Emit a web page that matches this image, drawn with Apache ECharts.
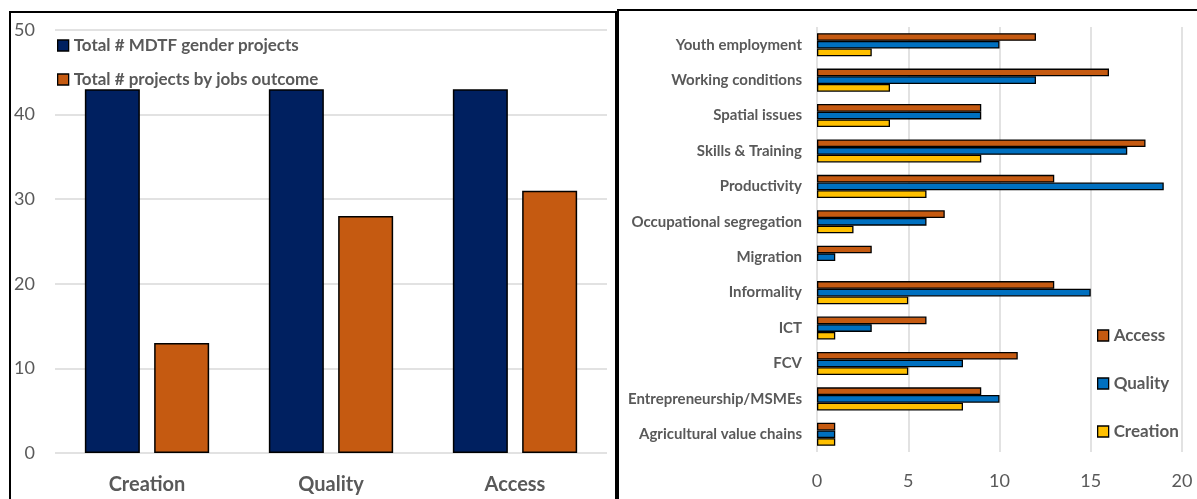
<!DOCTYPE html>
<html>
<head>
<meta charset="utf-8">
<script src="https://cdn.jsdelivr.net/npm/echarts@6/dist/echarts.min.js"></script>
<style>
  html, body { margin: 0; padding: 0; background: #fff; }
  #chart { width: 1197px; height: 499px; }
</style>
</head>
<body>
<div id="chart"></div>
<script>
// Left panel: projects per jobs outcome
const outcomes = ['Creation', 'Quality', 'Access'];
const totalGenderProjects = [43, 43, 43];
const projectsByOutcome = [13, 28, 31];
const leftTicks = { min: 0, max: 50, interval: 10 };

// Right panel: projects per topic (listed bottom to top)
const topics = [
  'Agricultural value chains',
  'Entrepreneurship/MSMEs',
  'FCV',
  'ICT',
  'Informality',
  'Migration',
  'Occupational segregation',
  'Productivity',
  'Skills & Training',
  'Spatial issues',
  'Working conditions',
  'Youth employment'
];
const creationByTopic = [1, 8, 5, 1, 5, 0, 2, 6, 9, 4, 4, 3];
const qualityByTopic  = [1, 10, 8, 3, 15, 1, 6, 19, 17, 9, 12, 10];
const accessByTopic   = [1, 9, 11, 6, 13, 3, 7, 13, 18, 9, 16, 12];
const rightTicks = { min: 0, max: 20, interval: 5 };

const FONT = 'Lato, "Open Sans", sans-serif';
const GREY = '#595959';
const GRID = '#d9d9d9';

// a zero count leaves no bar at all
const bars = arr => arr.map(v => (v === 0 ? '-' : v));

const chart = echarts.init(document.getElementById('chart'), null, { renderer: 'canvas' });

const outline = { borderColor: '#000', borderWidth: 1.5 };
const thinOutline = { borderColor: '#000', borderWidth: 1.3 };

chart.setOption({
  animation: false,
  backgroundColor: '#fff',
  textStyle: { fontFamily: FONT },
  grid: [
    { left: 55, right: 590, top: 30, bottom: 46 },
    { left: 817, right: 15, top: 27, bottom: 47 }
  ],
  legend: [
    {
      data: ['Total # MDTF gender projects', 'Total # projects by jobs outcome'],
      orient: 'vertical', left: 57, top: 37, padding: 0,
      itemWidth: 11, itemHeight: 11, itemGap: 17,
      icon: 'rect',
      itemStyle: { borderColor: '#000', borderWidth: 1.3 },
      textStyle: { color: GREY, fontSize: 17, fontWeight: 'bold', fontFamily: FONT }
    },
    {
      data: ['Access', 'Quality', 'Creation'],
      orient: 'vertical', left: 1097, top: 327, padding: 0,
      itemWidth: 11, itemHeight: 11, itemGap: 31,
      icon: 'rect',
      itemStyle: { borderColor: '#000', borderWidth: 1.3 },
      textStyle: { color: GREY, fontSize: 17, fontWeight: 'bold', fontFamily: FONT }
    }
  ],
  xAxis: [
    {
      gridIndex: 0, type: 'category', data: outcomes,
      axisLine: { show: false }, axisTick: { show: false },
      axisLabel: { color: GREY, fontSize: 20, fontWeight: 'bold', margin: 22, fontFamily: FONT }
    },
    {
      gridIndex: 1, type: 'value',
      min: rightTicks.min, max: rightTicks.max, interval: rightTicks.interval,
      axisLine: { show: false }, axisTick: { show: false },
      splitLine: { lineStyle: { color: GRID, width: 1.5 } },
      axisLabel: { color: GREY, fontSize: 18, margin: 20, fontFamily: FONT }
    }
  ],
  yAxis: [
    {
      gridIndex: 0, type: 'value',
      min: leftTicks.min, max: leftTicks.max, interval: leftTicks.interval,
      axisLine: { show: false }, axisTick: { show: false },
      splitLine: { lineStyle: { color: GRID, width: 1.5 } },
      axisLabel: { color: GREY, fontSize: 18, margin: 20, fontFamily: FONT }
    },
    {
      gridIndex: 1, type: 'category', data: topics,
      axisLine: { show: false }, axisTick: { show: false },
      axisLabel: { color: GREY, fontSize: 15, fontWeight: 'bold', margin: 15, fontFamily: FONT }
    }
  ],
  series: [
    {
      name: 'Total # MDTF gender projects', type: 'bar',
      xAxisIndex: 0, yAxisIndex: 0, data: totalGenderProjects,
      barWidth: 55, barGap: '26%',
      itemStyle: Object.assign({ color: '#002060' }, outline)
    },
    {
      name: 'Total # projects by jobs outcome', type: 'bar',
      xAxisIndex: 0, yAxisIndex: 0, data: projectsByOutcome,
      barWidth: 55, barGap: '26%',
      itemStyle: Object.assign({ color: '#C55A11' }, outline)
    },
    // within each topic: Access on top, Quality in the middle, Creation below
    {
      name: 'Access', type: 'bar',
      xAxisIndex: 1, yAxisIndex: 1, data: bars(accessByTopic),
      barWidth: 7.7, barGap: '0%',
      itemStyle: Object.assign({ color: '#C55A11' }, thinOutline)
    },
    {
      name: 'Quality', type: 'bar',
      xAxisIndex: 1, yAxisIndex: 1, data: bars(qualityByTopic),
      barWidth: 7.7, barGap: '0%',
      itemStyle: Object.assign({ color: '#0070C0' }, thinOutline)
    },
    {
      name: 'Creation', type: 'bar',
      xAxisIndex: 1, yAxisIndex: 1, data: bars(creationByTopic),
      barWidth: 7.7, barGap: '0%',
      itemStyle: Object.assign({ color: '#FFC000' }, thinOutline)
    }
  ],
  graphic: [
    {
      type: 'rect', silent: true, z: 100,
      shape: { x: 10, y: 12, width: 606, height: 520 },
      style: { fill: 'none', stroke: '#000', lineWidth: 2 }
    },
    {
      type: 'rect', silent: true, z: 100,
      shape: { x: 618, y: 10, width: 620, height: 520 },
      style: { fill: 'none', stroke: '#000', lineWidth: 2 }
    }
  ]
});
</script>
</body>
</html>
